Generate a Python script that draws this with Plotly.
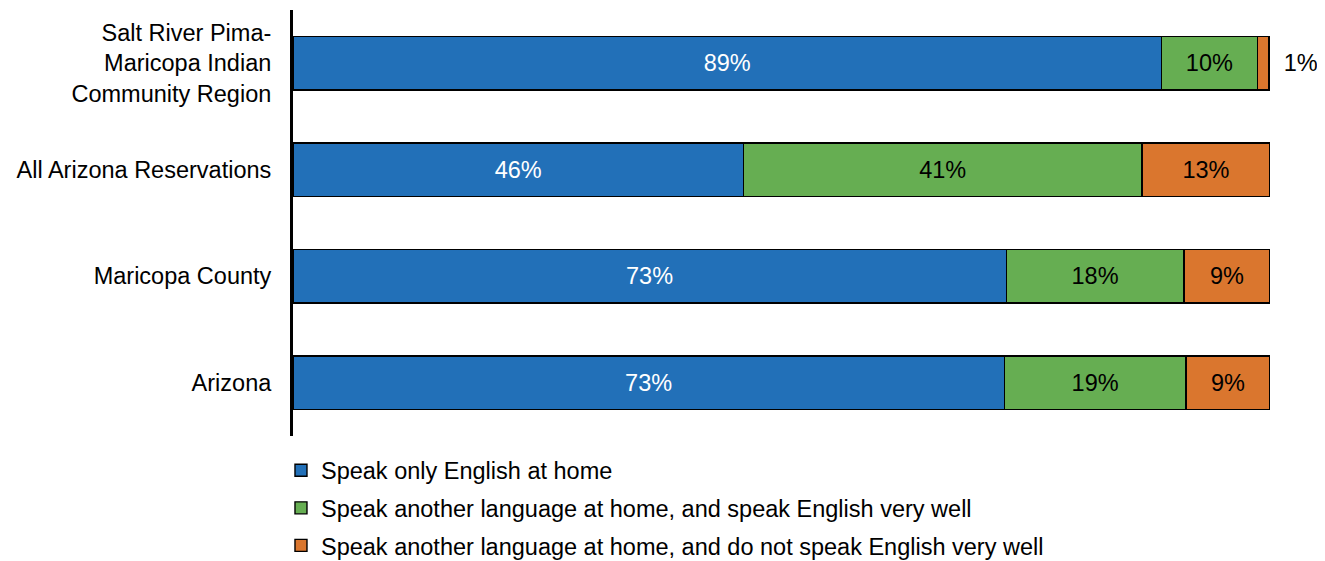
import plotly.graph_objects as go

categories = ["Salt River Pima-<br>Maricopa Indian<br>Community Region",
              "All Arizona Reservations", "Maricopa County", "Arizona"]
series_names = ["Speak only English at home",
                "Speak another language at home, and speak English very well",
                "Speak another language at home, and do not speak English very well"]
english_only = [88.9, 46.1, 73.0, 72.8]
other_well = [9.8, 40.8, 18.2, 18.6]
other_not_well = [1.2, 13.1, 8.8, 8.6]
labels_english = ["89%", "46%", "73%", "73%"]
labels_well = ["10%", "41%", "18%", "19%"]
labels_not_well = ["1%", "13%", "9%", "9%"]

colors = ["#2270B8", "#66AE52", "#DA762E"]
text_colors = ["white", "black", "black"]
values = [english_only, other_well, other_not_well]
labels = [labels_english, labels_well, labels_not_well]

FONT = "Liberation Sans"
LBL = 23.5

fig = go.Figure()
for i in range(3):
    pos = ["inside"] * 4
    if i == 2:
        pos = ["outside", "inside", "inside", "inside"]
    txt = [("\u2002" + t) if p == "outside" else t for t, p in zip(labels[i], pos)]
    fig.add_trace(go.Bar(
        y=categories, x=values[i], orientation="h", name=series_names[i],
        marker=dict(color=colors[i], line=dict(color="black", width=1.4)),
        text=txt, textposition=pos, insidetextanchor="middle",
        textangle=0, constraintext="none", cliponaxis=False,
        insidetextfont=dict(color=text_colors[i], size=LBL, family=FONT),
        outsidetextfont=dict(color="black", size=LBL, family=FONT),
        legendgroup=str(i), hoverinfo="skip",
    ))

fig.update_layout(
    barmode="stack", bargap=0.495,
    width=1325, height=561,
    margin=dict(l=285, r=63, t=2, b=132),
    plot_bgcolor="white", paper_bgcolor="white",
    font=dict(family=FONT, size=LBL, color="black"),
    showlegend=True,
    legend=dict(orientation="v", x=-0.0123, xanchor="left", y=-0.027, yanchor="top",
                traceorder="grouped", tracegroupgap=4,
                font=dict(size=LBL, family=FONT),
                itemwidth=30, bgcolor="rgba(0,0,0,0)"),
)
fig.update_xaxes(range=[0, 100], visible=False, showgrid=False, zeroline=False, fixedrange=True)
fig.update_yaxes(autorange="reversed", showline=True, linecolor="black", linewidth=3,
                 showgrid=False, ticks="", ticklabelstandoff=14,
                 tickfont=dict(size=LBL, family=FONT, color="black"))

fig.write_html("out.html")
